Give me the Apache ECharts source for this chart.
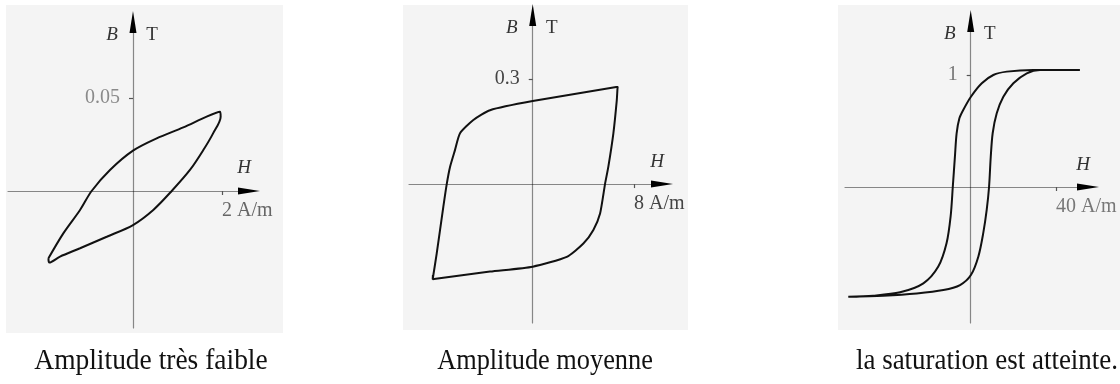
<!DOCTYPE html>
<html>
<head>
<meta charset="utf-8">
<script src="https://cdn.jsdelivr.net/npm/echarts@6/dist/echarts.min.js"></script>
<style>
  html, body { margin: 0; padding: 0; background: #ffffff; }
  #chart { width: 1120px; height: 384px; }
</style>
</head>
<body>
<div id="chart"></div>
<script>
// Hysteresis loops B(H) for three excitation amplitudes.
// H in A/m, B in T.

// Very low amplitude: thin tilted loop
const lowH = [-1.90, -1.566, -1.19, -0.93, -0.517, 0, 0.532, 1.131, 1.655, 1.955,
              1.97, 1.80, 1.58, 1.28, 0.87, 0.456, 0, -0.59, -1.19, -1.64, -1.88, -1.90];
const lowB = [-0.0362, -0.0228, -0.0102, 0, 0.0113, 0.0217, 0.0283, 0.0342, 0.0400, 0.0426,
              0.040, 0.0310, 0.0220, 0.0113, 0, -0.0102, -0.0183, -0.0246, -0.0308, -0.0353, -0.0385, -0.0362];

// Medium amplitude: wide, almost rectangular loop
const midH = [-7.9, -7.58, -7.06, -6.79, -6.53, -6.14, -5.74, -4.69, -3.37, 0, 6.6, 6.71,
              6.69, 6.64, 6.37, 5.97, 5.71, 5.32, 4.79, 4.0, 2.69, 0, -3.37, -7.8, -7.9, -7.88];
const midB = [-0.272, -0.198, -0.065, 0, 0.049, 0.097, 0.145, 0.183, 0.211, 0.237, 0.277, 0.278,
              0.27, 0.24, 0.145, 0.049, 0, -0.084, -0.131, -0.17, -0.208, -0.236, -0.25, -0.271, -0.272, -0.26];

// Saturation reached: steep loop with flat tails
const satH = [51.2, 29.3, 16.9, 10.6, 5.2, 0.1, -3.5, -5.3, -6.6, -7.4, -8.4, -9.4, -11.3, -15.2,
              -22.2, -33.1, -45.7, -57.4,
              -41, -25.3, -12.8, -5.0, 0.1, 3.6, 5.9, 7.5, 8.6, 9.4, 10.3, 12.2, 15.3, 20.0, 26.3, 32.5, 51.2];
const satB = [1.045, 1.045, 1.03, 1.0, 0.926, 0.806, 0.688, 0.613, 0.479, 0.271, 0, -0.26, -0.50, -0.71,
              -0.86, -0.94, -0.97, -0.98,
              -0.97, -0.95, -0.92, -0.875, -0.786, -0.62, -0.41, -0.205, 0, 0.27, 0.48, 0.658, 0.806, 0.926, 1.015, 1.045, 1.045];

// Marked tick on each axis
const hTicks = [2, 8, 40];
const bTicks = [0.05, 0.3, 1];
const hUnit = 'A/m';

const captions = ['Amplitude très faible', 'Amplitude moyenne', 'la saturation est atteinte.'];

// Layout of the three panels (pixels) and their axis ranges
const panels = [
  { grid: { left: 8, top: 22, width: 241, height: 306 },
    x: [-2.809, 2.607], y: [-0.0737, 0.0909], smooth: 0.3,
    bg: [6, 5, 277, 328], cap: [151, 361, 0.947], bLabelColor: '#8a8a8a', hLabelColor: '#666' },
  { grid: { left: 409, top: 15, width: 253, height: 308 },
    x: [-9.77, 10.21], y: [-0.397, 0.483], smooth: 0.2,
    bg: [403, 5, 285, 325], cap: [545, 361, 0.908], bLabelColor: '#444', hLabelColor: '#444' },
  { grid: { left: 845, top: 21, width: 243, height: 302 },
    x: [-58.93, 54.99], y: [-1.214, 1.482], smooth: 0.3,
    bg: [838, 5, 282, 325], cap: [987, 361, 0.93], bLabelColor: '#777', hLabelColor: '#777' }
];
const loops = [[lowH, lowB], [midH, midB], [satH, satB]];

const serif = 'Liberation Serif, Times New Roman, serif';

const axisLineStyle = { color: '#000', opacity: 0.45, width: 1.2 };

const grids = [], xAxes = [], yAxes = [], series = [], graphics = [];

panels.forEach(function (p, i) {
  grids.push(Object.assign({ outerBoundsMode: 'none', containLabel: false }, p.grid));

  // Axes cross at the origin: shift each axis from the grid edge to the zero line
  const xOffset = -p.grid.height * (0 - p.y[0]) / (p.y[1] - p.y[0]);
  const yOffset = -p.grid.width * (0 - p.x[0]) / (p.x[1] - p.x[0]);

  xAxes.push({
    type: 'value', gridIndex: i, min: p.x[0], max: p.x[1],
    position: 'bottom', offset: xOffset,
    splitLine: { show: false },
    axisLine: { onZero: false, lineStyle: axisLineStyle,
                symbol: ['none', 'triangle'], symbolSize: [7, 22] },
    axisTick: { show: true, customValues: [hTicks[i]], length: 4, inside: false,
                lineStyle: { color: '#555', width: 1.2 } },
    axisLabel: { show: true, customValues: [hTicks[i]], margin: 10, align: 'left',
                 fontFamily: serif, fontSize: 20, color: p.hLabelColor,
                 formatter: function (v) { return v + ' ' + hUnit; } },
    name: 'H', nameLocation: 'end', nameGap: -5, nameMoveOverlap: false,
    nameTextStyle: { fontFamily: serif, fontStyle: 'italic', fontSize: 19, color: '#333',
                     align: 'center', verticalAlign: 'bottom', padding: [0, 0, 13, 0] }
  });

  yAxes.push({
    type: 'value', gridIndex: i, min: p.y[0], max: p.y[1],
    position: 'left', offset: yOffset,
    splitLine: { show: false },
    axisLine: { onZero: false, lineStyle: axisLineStyle,
                symbol: ['none', 'triangle'], symbolSize: [7, 22] },
    axisTick: { show: true, customValues: [bTicks[i]], length: 4, inside: false,
                lineStyle: { color: '#555', width: 1.2 } },
    axisLabel: { show: true, customValues: [bTicks[i]], margin: 13,
                 fontFamily: serif, fontSize: 20, color: p.bLabelColor,
                 formatter: function (v) { return String(v); } },
    name: '{b|B}{t|T}', nameLocation: 'end', nameGap: -13, nameMoveOverlap: false,
    nameTextStyle: {
      align: 'center', verticalAlign: 'middle',
      rich: {
        b: { fontFamily: serif, fontStyle: 'italic', fontSize: 19, color: '#333', width: 38, align: 'center' },
        t: { fontFamily: serif, fontSize: 19, color: '#333', width: 42, align: 'center' }
      }
    }
  });

  const hs = loops[i][0], bs = loops[i][1];
  series.push({
    type: 'line', xAxisIndex: i, yAxisIndex: i,
    data: hs.map(function (h, k) { return [h, bs[k]]; }),
    showSymbol: false, smooth: p.smooth, clip: false,
    lineStyle: { color: '#111', width: 2 }
  });

  graphics.push({
    type: 'rect', z: -10, silent: true,
    shape: { x: p.bg[0], y: p.bg[1], width: p.bg[2], height: p.bg[3] },
    style: { fill: '#f4f4f4' }
  });
  graphics.push({
    type: 'text', x: p.cap[0], y: p.cap[1], scaleX: p.cap[2], z: 10, silent: true,
    style: { text: captions[i], font: '29px ' + serif, fill: '#111',
             textAlign: 'center', textVerticalAlign: 'middle' }
  });
});

const chart = echarts.init(document.getElementById('chart'), null, { renderer: 'canvas' });
chart.setOption({
  animation: false,
  backgroundColor: '#ffffff',
  grid: grids,
  xAxis: xAxes,
  yAxis: yAxes,
  series: series,
  graphic: graphics
});
</script>
</body>
</html>
